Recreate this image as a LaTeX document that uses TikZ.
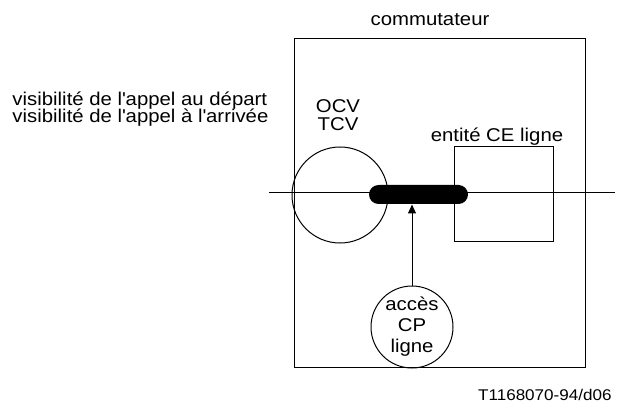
\documentclass[tikz,border=0pt]{standalone}
\usepackage{fontspec}
\setmainfont{Liberation Sans}[FakeStretch=1.1]
\usetikzlibrary{arrows.meta,shapes.misc}
\tikzset{
  >={Triangle[length=9pt,width=8pt]},
  every picture/.style={line width=1pt,font=\fontsize{18.5}{17.5}\selectfont},
  bx/.style={draw,inner sep=0pt},
  rnd/.style={draw,circle,inner sep=0pt,align=center},
  lab/.style={align=center,inner sep=0pt},
  arr/.style={->,line width=1pt},
}
\begin{document}
\begin{tikzpicture}[x=1pt,y=1pt]
  \useasboundingbox (0,0) rectangle (617,407);
  % switch
  \node[bx,minimum width=291pt,minimum height=328pt] (sw) at (439.5,204) {};
  \node[lab] (swt) at (430,387) {commutateur};
  % through line
  \coordinate (lin) at (269,214.5);
  \coordinate (lout) at (615,214.5);
  \draw (lin) -- (lout);
  % entities
  \node[rnd,minimum size=96pt] (ocv) at (340,212) {};
  \node[lab] (ocvt) at (338,292) {OCV\\TCV};
  \node[bx,minimum width=99pt,minimum height=94pt] (ce) at (503.5,213) {};
  \node[lab] (cet) at (497,270) {entité CE ligne};
  \node[rounded rectangle,fill=black,minimum width=99pt,minimum height=19pt,inner sep=0pt] (bus) at (418.5,212.5) {};
  \node[rnd,minimum size=82pt,font=\fontsize{18.5}{21}\selectfont] (cp) at (412,80) {accès\\CP\\ligne};
  \draw[arr] (cp.north) -- (cp.north |- bus.south);
  % visibility
  \node[lab,align=left,anchor=west] (vis) at (12,298) {visibilité de l\textquotesingle appel au départ\\visibilité de l\textquotesingle appel à l\textquotesingle arrivée};
  \node[lab,anchor=east,font=\fontsize{15.5}{18}\selectfont] (ref) at (612,12) {T1168070-94/d06};
\end{tikzpicture}
\end{document}
